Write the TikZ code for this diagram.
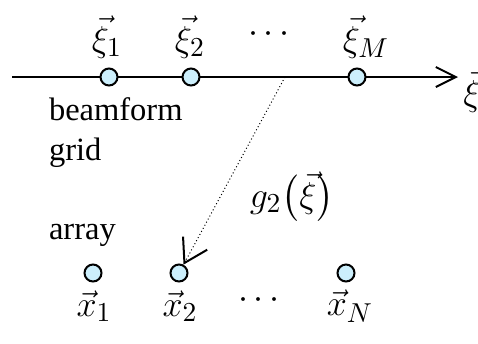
\documentclass[tikz,border=0pt]{standalone}
\usepackage{amsmath, amssymb}
\usepackage{fontspec}
\setmainfont{Liberation Serif}
\usepackage{tikz}
\usetikzlibrary{arrows.meta, positioning}

\begin{document}
\begin{tikzpicture}[x=0.4pt, y=0.4pt, >={Straight Barb[length=8pt, width=8pt]},
                    sensor/.style={circle, draw, line width=0.8pt, fill=cyan!20!white, minimum size=6.8pt, inner sep=0pt},
                    lbl/.style={font=\fontsize{13}{15}\selectfont, inner sep=1pt},
                    mlbl/.style={font=\fontsize{15.5}{18}\selectfont, inner sep=1pt}]
                \useasboundingbox (0,0) rectangle (478,343);
                \coordinate (axl) at (12,266);
                \coordinate (axr) at (458,266);
                \coordinate (src) at (285,266);
                \draw[->, line width=0.8pt] (axl) -- (axr);
                \node[mlbl] (axlbl) at (472,252) {$\vec{\xi}$};
                % beamform grid
                \node[sensor] (g1) at (109,266) {};
                \node[sensor] (g2) at (191,266) {};
                \node[sensor] (gM) at (357,266) {};
                \node[mlbl] (xi1) at (107,306) {$\vec{\xi}_1$};
                \node[mlbl] (xi2) at (190,306) {$\vec{\xi}_2$};
                \node[mlbl] (xidots) at (272,309) {$\cdots$};
                \node[mlbl] (xiM) at (366,306) {$\vec{\xi}_M$};
                \node[lbl, anchor=west] (beam) at (46,234) {beamform};
                \node[lbl, anchor=west] (grid) at (46,190) {grid};
                % array
                \node[lbl, anchor=west] (arr) at (46,108) {array};
                \node[sensor] (n1) at (93,70) {};
                \node[sensor] (n2) at (179,70) {};
                \node[sensor] (nN) at (346,70) {};
                \node[mlbl] (x1) at (94,37) {$\vec{x}_1$};
                \node[mlbl] (x2) at (180,37) {$\vec{x}_2$};
                \node[mlbl] (xdots) at (262,43) {$\cdots$};
                \node[mlbl] (xN) at (350,37) {$\vec{x}_N$};
                \draw[-{Straight Barb[length=9pt, width=11pt, line width=0.8pt]}, densely dotted, line width=0.4pt] (src) -- (n2);
                \node[mlbl] (gfun) at (292,146) {$g_2\bigl(\vec{\xi}\bigr)$};
            \end{tikzpicture}
\end{document}
